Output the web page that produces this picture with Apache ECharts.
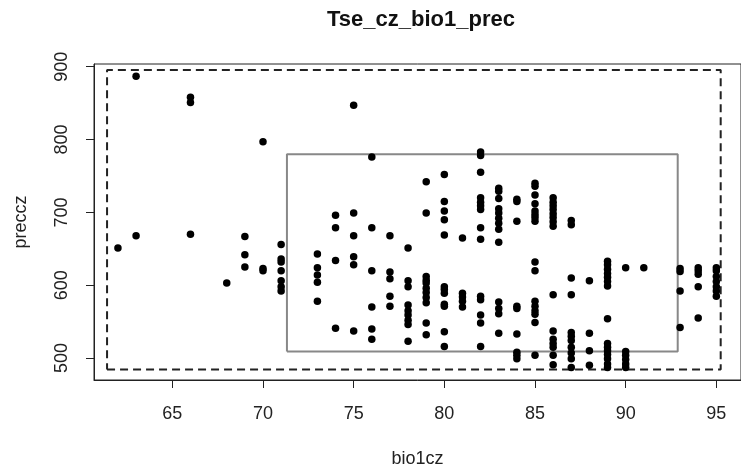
<!DOCTYPE html>
<html>
<head>
<meta charset="utf-8">
<script src="https://cdn.jsdelivr.net/npm/echarts@6/dist/echarts.min.js"></script>
<style>html,body{margin:0;padding:0;background:#fff;}#c{width:741px;height:473px;}</style>
</head>
<body>
<div id="c"></div>
<script>
// ---- data ----
const titleText = "Tse_cz_bio1_prec";
const xName = "bio1cz";
const yName = "preccz";
const xTicks = [65, 70, 75, 80, 85, 90, 95];
const yTicks = [500, 600, 700, 800, 900];
const xRange = [60.68, 96.36];
const yRange = [469.9, 903.7];
// dashed outer rectangle [xmin, xmax, ymin, ymax]
const dashedBox = [61.4, 95.24, 484.3, 895.5];
// grey inner rectangle [xmin, xmax, ymin, ymax]
const greyBox = [71.32, 92.87, 509, 779.7];

const bio1cz = [
  62,
  63, 63,
  66, 66, 66,
  68,
  69, 69, 69,
  70, 70, 70,
  71, 71, 71, 71, 71, 71, 71,
  73, 73, 73, 73, 73,
  74, 74, 74, 74,
  75, 75, 75, 75, 75, 75,
  76, 76, 76, 76, 76, 76,
  77, 77, 77, 77, 77,
  78, 78, 78, 78, 78, 78, 78, 78, 78,
  79, 79, 79, 79, 79, 79, 79, 79, 79, 79, 79,
  80, 80, 80, 80, 80, 80, 80, 80, 80, 80, 80, 80,
  81, 81, 81, 81, 81,
  82, 82, 82, 82, 82, 82, 82, 82, 82, 82, 82, 82, 82, 82,
  83, 83, 83, 83, 83, 83, 83, 83, 83, 83, 83, 83, 83,
  84, 84, 84, 84, 84, 84, 84, 84, 84,
  85, 85, 85, 85, 85, 85, 85, 85, 85, 85, 85, 85, 85, 85, 85, 85,
  86, 86, 86, 86, 86, 86, 86, 86, 86, 86, 86, 86, 86, 86, 86,
  87, 87, 87, 87, 87, 87, 87, 87, 87, 87, 87,
  88, 88, 88, 88,
  89, 89, 89, 89, 89, 89, 89, 89, 89, 89, 89, 89, 89, 89, 89,
  90, 90, 90, 90, 90, 90,
  91,
  93, 93, 93, 93,
  94, 94, 94, 94, 94,
  95, 95, 95, 95, 95, 95, 95
];
const preccz = [
  651,
  887, 668,
  858, 851, 670,
  603,
  667, 642, 625,
  797, 623, 620,
  656, 636, 632, 620, 606, 598, 592,
  643, 624, 614, 604, 578,
  696, 679, 634, 541,
  847, 699, 668, 639, 628, 537,
  776, 679, 620, 570, 540, 526,
  668, 618, 609, 585, 571,
  651, 606, 598, 573, 565, 559, 552, 546, 523,
  742, 699, 612, 607, 603, 596, 590, 583, 576, 548, 532,
  752, 715, 702, 690, 669, 598, 594, 589, 574, 571, 536, 516,
  665, 589, 584, 578, 570,
  783, 778, 755, 720, 714, 709, 704, 679, 663, 585, 580, 559, 548, 516,
  733, 729, 719, 705, 699, 692, 685, 677, 659, 577, 568, 561, 534,
  718, 715, 688, 571, 568, 533, 508, 504, 499,
  740, 736, 724, 712, 702, 697, 693, 688, 632, 620, 578, 571, 565, 560, 549, 504,
  720, 714, 709, 704, 698, 693, 687, 681, 587, 537, 526, 520, 515, 504, 491,
  689, 683, 610, 587, 535, 530, 524, 515, 507, 499, 487,
  606, 534, 510, 490,
  633, 628, 622, 616, 611, 605, 599, 554, 520, 515, 510, 505, 499, 492, 487,
  624, 509, 504, 498, 492, 487,
  624,
  623, 619, 592, 542,
  624, 620, 615, 598, 555,
  624, 620, 612, 605, 598, 592, 585
];

// ---- chart ----
const FONT = "'Liberation Sans', Arial, sans-serif";
const points = bio1cz.map((x, i) => [x, preccz[i]]);
function rectPath(b) {
  return [[b[0], b[2]], [b[1], b[2]], [b[1], b[3]], [b[0], b[3]], [b[0], b[2]]];
}

const chart = echarts.init(document.getElementById('c'), null, { renderer: 'canvas' });
chart.setOption({
  animation: false,
  backgroundColor: '#ffffff',
  grid: {
    left: 94, top: 64, width: 653, height: 321,
    show: true, borderColor: '#222', borderWidth: 1, backgroundColor: 'transparent',
    containLabel: false
  },
  graphic: [{
    type: 'text',
    x: 421, y: 20,
    style: {
      text: titleText, fill: '#111', font: 'bold 22px ' + FONT,
      textAlign: 'center', textVerticalAlign: 'middle'
    }
  }],
  xAxis: {
    type: 'value', min: xRange[0], max: xRange[1],
    name: xName, nameLocation: 'middle', nameGap: 70,
    nameTextStyle: { fontFamily: FONT, fontSize: 18, color: '#222' },
    axisLine: { show: true, onZero: false, lineStyle: { color: '#222', width: 1 } },
    axisTick: { show: true, length: 8, lineStyle: { color: '#222' }, customValues: xTicks },
    axisLabel: { show: true, margin: 25, fontFamily: FONT, fontSize: 18, color: '#222', customValues: xTicks },
    splitLine: { show: false }
  },
  yAxis: {
    type: 'value', min: yRange[0], max: yRange[1],
    name: yName, nameLocation: 'middle', nameGap: 64, nameRotate: 90,
    nameTextStyle: { fontFamily: FONT, fontSize: 18, color: '#222' },
    axisLine: { show: true, onZero: false, lineStyle: { color: '#222', width: 1 } },
    axisTick: { show: true, length: 8, lineStyle: { color: '#222' }, customValues: yTicks },
    axisLabel: { show: true, margin: 23, rotate: 90, fontFamily: FONT, fontSize: 18, color: '#222', customValues: yTicks },
    splitLine: { show: false }
  },
  series: [
    {
      type: 'line', data: rectPath(dashedBox), symbol: 'none', silent: true,
      lineStyle: { color: '#222', width: 2, type: [8, 5] }, z: 1
    },
    {
      type: 'line', data: rectPath(greyBox), symbol: 'none', silent: true,
      lineStyle: { color: '#888', width: 2 }, z: 1
    },
    {
      type: 'scatter', data: points, symbol: 'circle', symbolSize: 7.5,
      itemStyle: { color: '#000', opacity: 1 }, z: 3
    }
  ]
});
</script>
</body>
</html>
